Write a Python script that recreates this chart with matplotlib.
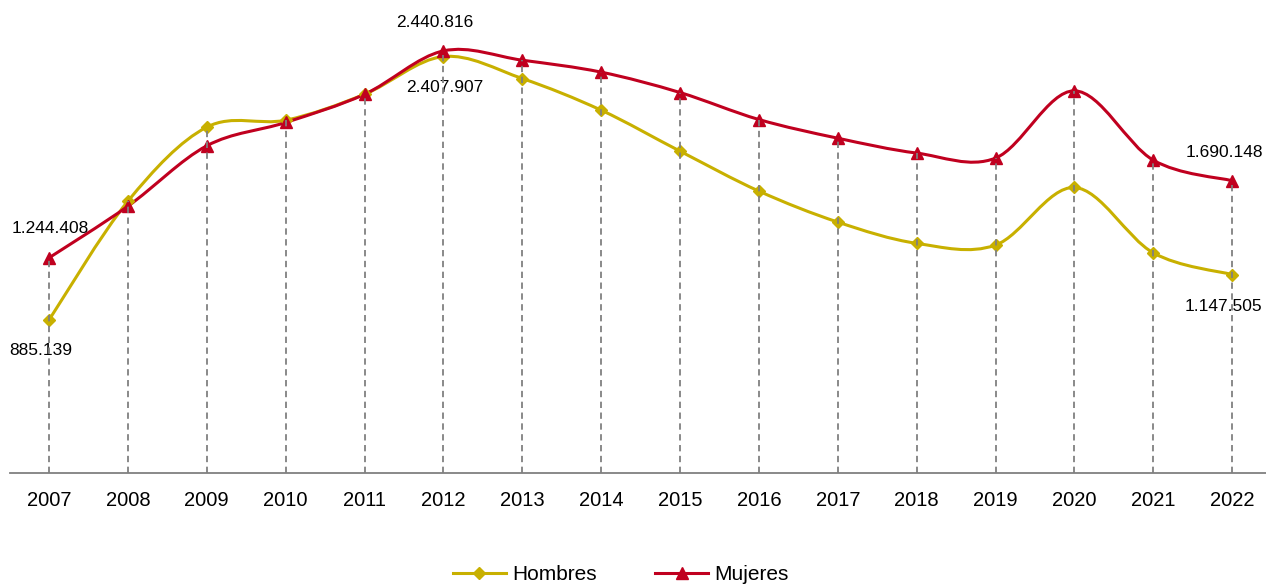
import matplotlib
matplotlib.use("Agg")
import matplotlib.pyplot as plt
from matplotlib.path import Path
from matplotlib.patches import PathPatch

plt.rcParams['font.family'] = ['Liberation Sans', 'DejaVu Sans']

years = ['2007', '2008', '2009', '2010', '2011', '2012', '2013', '2014',
         '2015', '2016', '2017', '2018', '2019', '2020', '2021', '2022']
hombres = [885139, 1572000, 2000000, 2040000, 2190000, 2407907, 2281000, 2098000,
           1861000, 1630000, 1451000, 1328000, 1318000, 1651000, 1273000, 1147505]
mujeres = [1244408, 1543000, 1892000, 2027000, 2190000, 2440816, 2387000, 2318000,
           2200000, 2044000, 1936000, 1850000, 1821000, 2210000, 1809000, 1690148]

c_hom = '#C8B000'
c_muj = '#C0001F'


def smooth_path(xs, ys):
    # excel-like smoothed line: bezier segments with catmull-rom handles
    verts = [(xs[0], ys[0])]
    codes = [Path.MOVETO]
    n = len(xs)
    for i in range(n - 1):
        x0, y0 = (xs[i - 1], ys[i - 1]) if i > 0 else (xs[i], ys[i])
        x1, y1 = xs[i], ys[i]
        x2, y2 = xs[i + 1], ys[i + 1]
        x3, y3 = (xs[i + 2], ys[i + 2]) if i + 2 < n else (x2, y2)
        verts += [(x1 + (x2 - x0) / 6, y1 + (y2 - y0) / 6),
                  (x2 - (x3 - x1) / 6, y2 - (y3 - y1) / 6),
                  (x2, y2)]
        codes += [Path.CURVE4] * 3
    return Path(verts, codes)


fig = plt.figure(figsize=(12.66, 5.84), dpi=100)
ax = fig.add_axes([9.6 / 1266, 0.19, 1262 / 1266, 0.77])

x = list(range(len(years)))

# drop lines
for i in x:
    ax.plot([i, i], [0, max(hombres[i], mujeres[i])], color='#808080',
            lw=1.3, ls=(0, (3.5, 2.5)), zorder=4)

ax.add_patch(PathPatch(smooth_path(x, hombres), fill=False, ec=c_hom, lw=2.2, zorder=2))
ax.add_patch(PathPatch(smooth_path(x, mujeres), fill=False, ec=c_muj, lw=2.2, zorder=3))
ax.plot(x, hombres, ls='none', marker='D', ms=6, color=c_hom, zorder=3)
ax.plot(x, mujeres, ls='none', marker='^', ms=8, color=c_muj, zorder=3)

# legend proxies
ax.plot([], [], color=c_hom, lw=2.2, marker='D', ms=6, label='Hombres')
ax.plot([], [], color=c_muj, lw=2.2, marker='^', ms=8, label='Mujeres')

ax.set_xlim(-0.5, 15.5)
ax.set_ylim(0, 2600000)
ax.set_xticks(x)
ax.set_xticklabels(years, fontsize=14.5)
ax.tick_params(axis='x', length=0, pad=13)
ax.set_yticks([])
for s in ['top', 'right', 'left']:
    ax.spines[s].set_visible(False)
ax.spines['bottom'].set_color('#808080')
ax.spines['bottom'].set_linewidth(1.3)


def fmt(v):
    return f'{v:,}'.replace(',', '.')


labels = [(0, mujeres[0], 1, 29), (0, hombres[0], -8, -31),
          (5, mujeres[5], -9, 28), (5, hombres[5], 1, -31),
          (15, mujeres[15], -8, 28), (15, hombres[15], -9, -32)]
for i, v, dx, dy in labels:
    ax.annotate(fmt(v), (i, v), xytext=(dx, dy), textcoords='offset pixels',
                ha='center', va='center', fontsize=12.5)

fig.legend(loc='center', bbox_to_anchor=(0.4905, 0.016), ncol=2, frameon=False,
           fontsize=15, handlelength=2.55, columnspacing=2.8, handletextpad=0.3)

fig.savefig('out.png', dpi=100)
